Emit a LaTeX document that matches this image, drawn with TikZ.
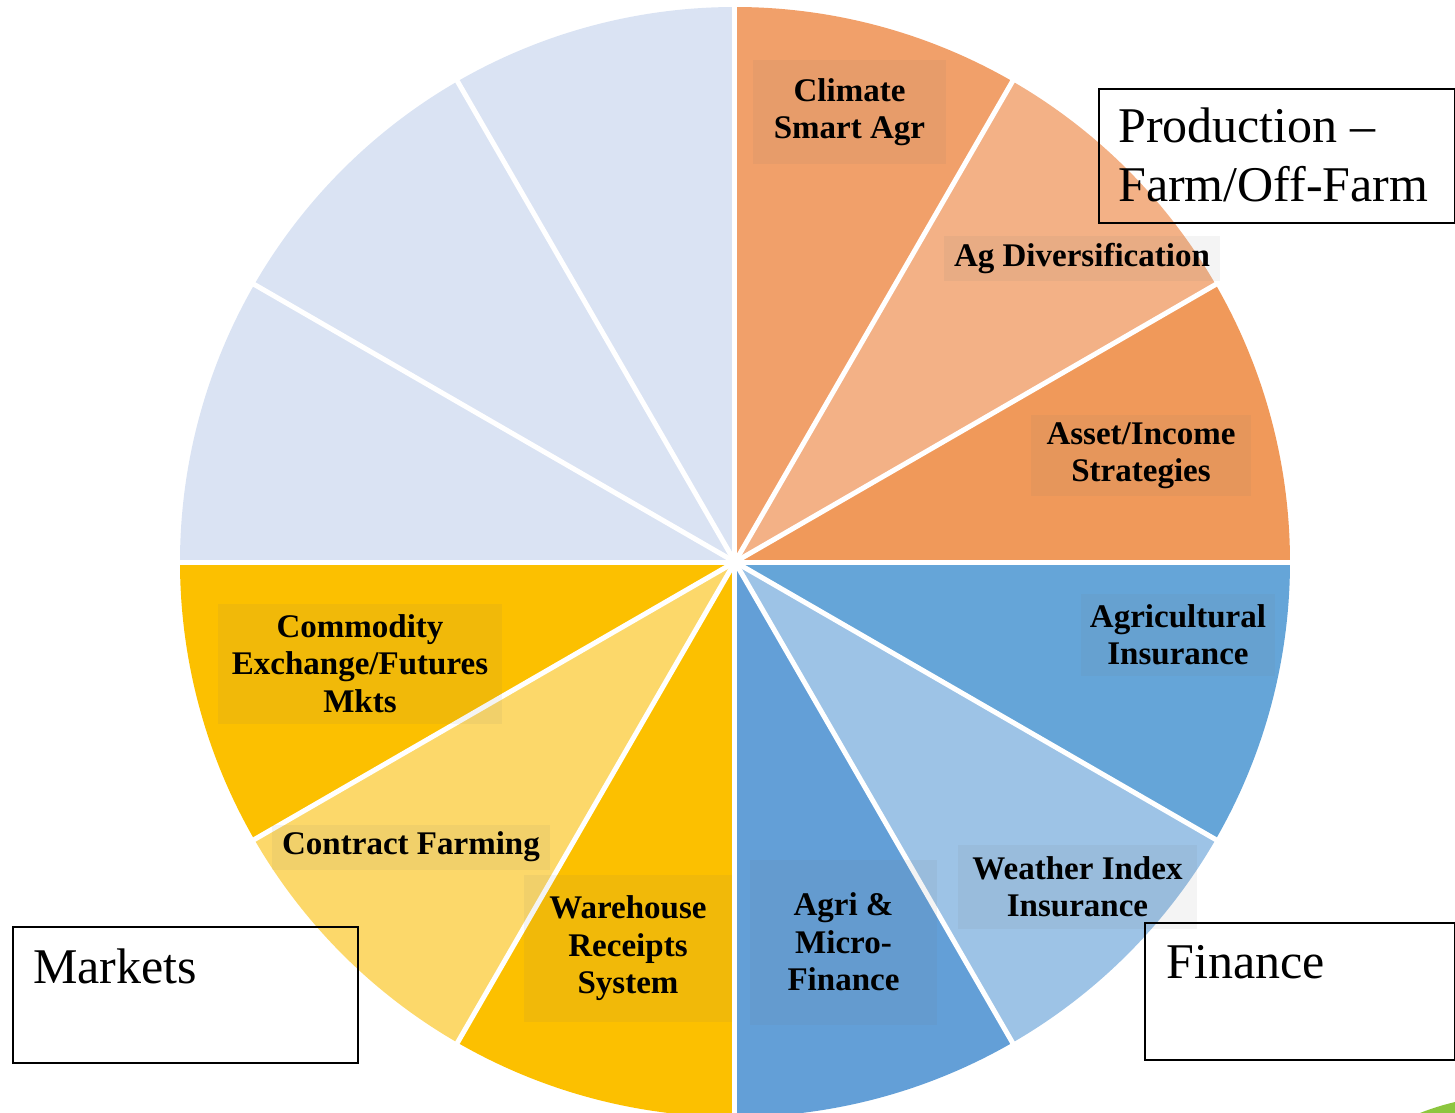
\documentclass[tikz,border=0pt]{standalone}
\usepackage{fontspec}
\setmainfont{Liberation Serif}
\usetikzlibrary{positioning}
\definecolor{climate}{HTML}{F1A06A}
\definecolor{agdiv}{HTML}{F3B186}
\definecolor{asset}{HTML}{F0995A}
\definecolor{agins}{HTML}{65A5D8}
\definecolor{weather}{HTML}{9DC3E6}
\definecolor{micro}{HTML}{639FD7}
\definecolor{gold}{HTML}{FCC000}
\definecolor{contract}{HTML}{FCD86A}
\definecolor{spare}{HTML}{DAE3F3}
\definecolor{leaf}{HTML}{8CC63E}
\newcommand{\slice}[2]{
  \fill[#2] (0,0) -- (#1:555) arc[start angle=#1, delta angle=30, radius=555] -- cycle;
}
\tikzset{
  x=0.02cm, y=0.02cm,
  tag/.style 2 args={font=\bfseries\fontsize{18.8}{21.3}\selectfont, align=center,
    fill=black!55, fill opacity=0.08, text opacity=1, inner sep=0pt,
    minimum width=#1*0.02cm, minimum height=#2*0.02cm},
  group/.style 2 args={draw=black, line width=1.1pt, anchor=north west, inner sep=0pt,
    minimum width=#1*0.02cm, minimum height=#2*0.02cm},
  grouptext/.style={font=\fontsize{28.45}{33.6}\selectfont, align=left, anchor=base west, inner sep=0pt}
}

\begin{document}
\begin{tikzpicture}
	\useasboundingbox (-735,-551) rectangle (720,562);
	\clip (-735,-551) rectangle (720,562);
	% pie
	\foreach \a/\c in {60/climate, 30/agdiv, 0/asset, -30/agins, -60/weather, -90/micro,
	                   240/gold, 210/contract, 180/gold, 150/spare, 120/spare, 90/spare}
		{\slice{\a}{\c}}
	\foreach \a in {0,30,...,330}
		\draw[white, line width=0.1cm] (0,0) -- (\a:556);
	% sector labels
	\node[tag={193}{104}] (climate) at (114.5,450) {Climate\\Smart Agr};
	\node[tag={276}{45}] (agdiv) at (347,303.5) {Ag Diversification};
	\node[tag={220}{81}] (asset) at (406,106.5) {Asset/Income\\Strategies};
	\node[tag={194}{82}] (agins) at (443,-73) {Agricultural\\Insurance};
	\node[tag={239}{84}] (weather) at (342.5,-325) {Weather Index\\Insurance};
	\node[tag={187}{165}] (micro) at (108.5,-380) {Agri \&\\Micro-\\Finance};
	\node[tag={208}{147}] (warehouse) at (-107,-386.5) {Warehouse\\Receipts\\System};
	\node[tag={278}{45}] (contract) at (-324,-285) {Contract Farming};
	\node[tag={284}{120}] (commodity) at (-375,-101.5) {Commodity\\Exchange/Futures\\Mkts};
	% group boxes
	\node[group={356}{134}] (prod) at (363,474) {};
	\node[grouptext] (prodtext) at ([shift={(20,-114)}]prod.north west) {Production –\\Farm/Off-Farm};
	\node[group={345}{136}] (markets) at (-723,-364) {};
	\node[grouptext] (marketstext) at ([shift={(21,-57)}]markets.north west) {Markets};
	\node[group={310}{137}] (finance) at (409,-360) {};
	\node[grouptext] (financetext) at ([shift={(22,-56)}]finance.north west) {Finance};
	% corner leaf
	\fill[leaf] (685,-551) .. controls (700,-545) and (712,-542) .. (720,-540) -- (720,-551) -- cycle;
\end{tikzpicture}
\end{document}
